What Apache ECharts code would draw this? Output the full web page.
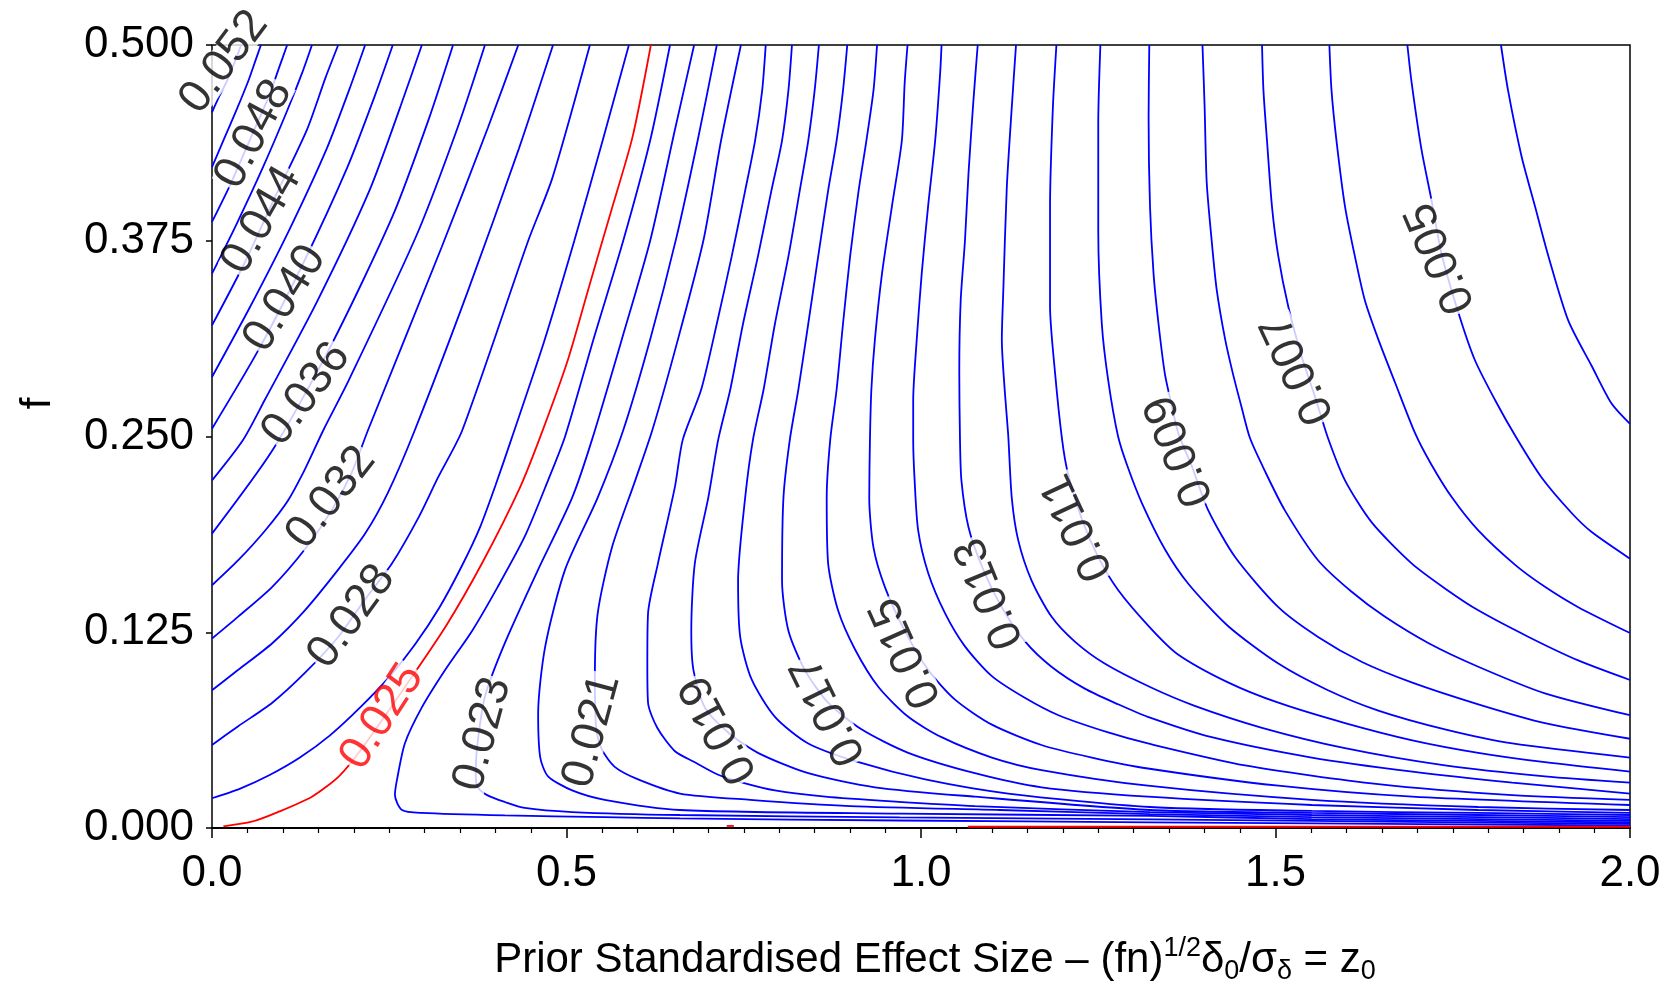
<!DOCTYPE html>
<html>
<head>
<meta charset="utf-8">
<script src="https://cdn.jsdelivr.net/npm/echarts@6/dist/echarts.min.js"></script>
<style>
html,body{margin:0;padding:0;background:#fff;}
#chart{width:1664px;height:984px;}
</style>
</head>
<body>
<div id="chart"></div>
<script>
// tick labels
const xTickLabels = ['0.0','0.5','1.0','1.5','2.0'];
const yTickLabels = ['0.000','0.125','0.250','0.375','0.500'];

// contour lines, [z0, f]
const c052 = [[0,0.457],[0.010,0.467],[0.021,0.477],[0.031,0.488],[0.037,0.495],[0.041,0.5]];
const c050 = [[0,0.422],[0.017,0.440],[0.035,0.459],[0.052,0.478],[0.062,0.491],[0.069,0.5]];
const c048 = [[0,0.387],[0.027,0.412],[0.053,0.439],[0.080,0.467],[0.095,0.486],[0.106,0.5]];
const c046 = [[0,0.354],[0.035,0.386],[0.071,0.421],[0.106,0.458],[0.127,0.482],[0.141,0.5]];
const c044 = [[0,0.321],[0.045,0.360],[0.089,0.403],[0.134,0.446],[0.160,0.479],[0.178,0.5]];
const c042 = [[0,0.288],[0.054,0.333],[0.108,0.381],[0.162,0.434],[0.194,0.472],[0.216,0.5]];
const c040 = [[0,0.255],[0.064,0.304],[0.128,0.360],[0.191,0.422],[0.230,0.468],[0.255,0.5]];
const c038 = [[0,0.222],[0.044,0.248],[0.074,0.273],[0.148,0.336],[0.222,0.407],[0.266,0.461],[0.296,0.5]];
const c036 = [[0,0.188],[0.085,0.241],[0.170,0.310],[0.255,0.391],[0.306,0.453],[0.340,0.5]];
const c034 = [[0,0.155],[0.037,0.171],[0.075,0.190],[0.107,0.209],[0.131,0.229],[0.157,0.254],[0.193,0.286],[0.289,0.379],[0.347,0.448],[0.385,0.5]];
const c032 = [[0,0.121],[0.037,0.135],[0.085,0.154],[0.131,0.178],[0.169,0.203],[0.197,0.227],[0.220,0.254],[0.324,0.371],[0.389,0.447],[0.432,0.5]];
const c030 = [[0,0.088],[0.037,0.101],[0.085,0.118],[0.131,0.139],[0.178,0.165],[0.216,0.188],[0.248,0.214],[0.286,0.254],[0.361,0.343],[0.433,0.434],[0.481,0.5]];
const c028 = [[0,0.053],[0.037,0.065],[0.085,0.080],[0.131,0.099],[0.178,0.122],[0.216,0.146],[0.254,0.169],[0.291,0.198],[0.319,0.224],[0.353,0.254],[0.446,0.375],[0.480,0.415],[0.533,0.5]];
const c026 = [[0,0.019],[0.039,0.025],[0.082,0.034],[0.124,0.045],[0.166,0.059],[0.209,0.077],[0.251,0.097],[0.286,0.117],[0.321,0.141],[0.352,0.167],[0.378,0.192],[0.400,0.219],[0.422,0.248],[0.468,0.310],[0.511,0.375],[0.551,0.439],[0.588,0.5]];
const c025 = [[0.016,0.001],[0.056,0.004],[0.092,0.010],[0.141,0.020],[0.179,0.033],[0.210,0.050],[0.269,0.088],[0.330,0.129],[0.382,0.170],[0.434,0.217],[0.464,0.251],[0.502,0.299],[0.532,0.346],[0.563,0.394],[0.593,0.441],[0.619,0.5]];
const c025bottom = [[1.066,0.0008],[2.0,0.0008]];
const c025dash = [[0.726,0.0013],[0.736,0.0013]];
const c024 = [[0.646,0.5],[0.618,0.439],[0.580,0.375],[0.538,0.312],[0.498,0.250],[0.474,0.222],[0.441,0.186],[0.403,0.154],[0.367,0.126],[0.329,0.101],[0.296,0.077],[0.272,0.054],[0.261,0.031],[0.258,0.021],[0.268,0.0115],[0.296,0.0096],[0.413,0.0080],[0.554,0.0070],[0.660,0.0061],[0.970,0.0048],[1.323,0.0036],[1.551,0.0029],[2.0,0.0016]];
const c023 = [[0.680,0.5],[0.653,0.446],[0.618,0.375],[0.578,0.312],[0.536,0.248],[0.508,0.211],[0.460,0.165],[0.413,0.118],[0.385,0.084],[0.374,0.052],[0.372,0.033],[0.375,0.026],[0.388,0.021],[0.413,0.0166],[0.441,0.0128],[0.508,0.0102],[0.660,0.0083],[0.970,0.0068],[1.323,0.0055],[1.551,0.0045],[2.0,0.0026]];
const c022 = [[0.712,0.5],[0.685,0.439],[0.655,0.377],[0.618,0.312],[0.580,0.254],[0.544,0.211],[0.498,0.165],[0.470,0.116],[0.460,0.073],[0.463,0.045],[0.474,0.033],[0.508,0.024],[0.554,0.018],[0.660,0.0115],[0.970,0.0092],[1.323,0.0077],[1.551,0.0057],[1.786,0.0045],[2.0,0.0035]];
const c021 = [[0.746,0.5],[0.718,0.439],[0.693,0.375],[0.653,0.305],[0.621,0.254],[0.597,0.222],[0.564,0.179],[0.544,0.137],[0.540,0.095],[0.542,0.063],[0.550,0.050],[0.568,0.039],[0.601,0.031],[0.660,0.022],[0.759,0.018],[0.900,0.014],[1.111,0.0115],[1.323,0.0089],[1.551,0.0070],[1.786,0.0057],[2.0,0.0045]];
const c020 = [[0.781,0.5],[0.776,0.471],[0.766,0.439],[0.752,0.407],[0.733,0.365],[0.712,0.322],[0.690,0.280],[0.664,0.248],[0.653,0.218],[0.629,0.169],[0.615,0.137],[0.614,0.105],[0.615,0.080],[0.628,0.064],[0.653,0.049],[0.681,0.042],[0.714,0.034],[0.748,0.029],[0.794,0.024],[0.865,0.020],[0.959,0.017],[1.076,0.014],[1.323,0.0102],[1.551,0.0083],[1.786,0.0070],[2.0,0.0057]];
const c019 = [[0.818,0.5],[0.813,0.471],[0.804,0.439],[0.789,0.407],[0.770,0.365],[0.749,0.322],[0.731,0.280],[0.714,0.248],[0.700,0.211],[0.681,0.169],[0.676,0.126],[0.679,0.101],[0.695,0.077],[0.728,0.061],[0.770,0.048],[0.841,0.035],[0.935,0.026],[1.076,0.020],[1.323,0.0115],[1.551,0.0096],[1.786,0.0083],[2.0,0.0070]];
const c018 = [[0.856,0.5],[0.850,0.471],[0.841,0.439],[0.829,0.407],[0.813,0.365],[0.794,0.322],[0.778,0.280],[0.763,0.248],[0.752,0.211],[0.742,0.158],[0.745,0.122],[0.761,0.095],[0.794,0.071],[0.841,0.054],[0.912,0.042],[1.006,0.031],[1.123,0.022],[1.323,0.0134],[1.551,0.0109],[1.786,0.0096],[2.0,0.0083]];
const c017 = [[0.896,0.5],[0.890,0.471],[0.881,0.439],[0.869,0.407],[0.855,0.365],[0.841,0.322],[0.827,0.280],[0.815,0.248],[0.806,0.211],[0.804,0.158],[0.813,0.126],[0.836,0.101],[0.869,0.080],[0.916,0.063],[0.982,0.048],[1.076,0.035],[1.170,0.026],[1.320,0.020],[1.551,0.0147],[1.786,0.0115],[2.0,0.0096]];
const c016 = [[0.938,0.5],[0.933,0.471],[0.923,0.439],[0.912,0.407],[0.900,0.365],[0.890,0.322],[0.881,0.280],[0.872,0.248],[0.867,0.211],[0.869,0.169],[0.883,0.139],[0.907,0.114],[0.940,0.090],[0.982,0.071],[1.029,0.058],[1.100,0.045],[1.170,0.037],[1.320,0.027],[1.551,0.018],[1.786,0.0134],[2.0,0.0115]];
const c015 = [[0.981,0.5],[0.977,0.476],[0.973,0.439],[0.959,0.397],[0.945,0.354],[0.935,0.312],[0.930,0.280],[0.928,0.248],[0.927,0.211],[0.933,0.179],[0.949,0.154],[0.977,0.126],[1.010,0.101],[1.048,0.082],[1.100,0.066],[1.170,0.053],[1.241,0.045],[1.320,0.038],[1.504,0.027],[1.693,0.020],[2.0,0.0147]];
const c014 = [[1.029,0.5],[1.027,0.482],[1.020,0.439],[1.010,0.397],[1.001,0.354],[0.994,0.312],[0.989,0.273],[0.989,0.248],[0.991,0.222],[0.996,0.190],[1.010,0.163],[1.034,0.137],[1.062,0.116],[1.100,0.097],[1.147,0.083],[1.194,0.072],[1.264,0.061],[1.320,0.054],[1.457,0.040],[1.645,0.028],[1.834,0.021],[2.0,0.018]];
const c013 = [[1.080,0.5],[1.074,0.465],[1.067,0.418],[1.062,0.375],[1.056,0.337],[1.054,0.291],[1.055,0.248],[1.057,0.222],[1.067,0.192],[1.086,0.167],[1.114,0.141],[1.147,0.119],[1.184,0.103],[1.231,0.089],[1.278,0.079],[1.320,0.071],[1.410,0.058],[1.551,0.045],[1.693,0.036],[1.834,0.029],[2.0,0.022]];
const c012 = [[1.134,0.5],[1.128,0.460],[1.121,0.409],[1.116,0.342],[1.114,0.312],[1.118,0.280],[1.123,0.251],[1.128,0.211],[1.137,0.184],[1.156,0.158],[1.184,0.135],[1.217,0.119],[1.259,0.105],[1.323,0.090],[1.386,0.078],[1.481,0.064],[1.598,0.051],[1.739,0.040],[1.880,0.033],[2.0,0.029]];
const c011 = [[1.191,0.5],[1.186,0.460],[1.182,0.397],[1.182,0.333],[1.189,0.291],[1.199,0.248],[1.207,0.227],[1.227,0.197],[1.250,0.173],[1.278,0.152],[1.323,0.128],[1.362,0.111],[1.433,0.093],[1.504,0.080],[1.598,0.067],[1.693,0.056],[1.786,0.048],[1.880,0.042],[2.0,0.036]];
const c010 = [[1.253,0.5],[1.250,0.450],[1.250,0.382],[1.255,0.322],[1.264,0.286],[1.278,0.250],[1.292,0.230],[1.312,0.207],[1.344,0.178],[1.377,0.156],[1.433,0.129],[1.504,0.105],[1.574,0.088],[1.645,0.075],[1.739,0.063],[1.834,0.054],[2.0,0.045]];
const c009 = [[1.322,0.5],[1.321,0.454],[1.323,0.397],[1.328,0.354],[1.335,0.322],[1.344,0.290],[1.354,0.269],[1.363,0.252],[1.382,0.231],[1.405,0.203],[1.443,0.173],[1.504,0.141],[1.560,0.122],[1.622,0.106],[1.692,0.093],[1.786,0.079],[1.880,0.067],[2.0,0.057]];
const c008 = [[1.397,0.5],[1.400,0.461],[1.403,0.412],[1.410,0.375],[1.417,0.344],[1.429,0.312],[1.440,0.290],[1.452,0.269],[1.464,0.249],[1.485,0.228],[1.513,0.203],[1.560,0.171],[1.607,0.151],[1.654,0.135],[1.716,0.118],[1.786,0.103],[1.880,0.086],[2.0,0.072]];
const c007 = [[1.481,0.5],[1.483,0.471],[1.488,0.439],[1.495,0.397],[1.504,0.365],[1.518,0.333],[1.537,0.301],[1.556,0.275],[1.574,0.249],[1.598,0.222],[1.636,0.195],[1.692,0.169],[1.739,0.153],[1.786,0.139],[1.857,0.122],[1.927,0.107],[2.0,0.0945]];
const c006 = [[1.576,0.5],[1.579,0.471],[1.586,0.439],[1.598,0.397],[1.612,0.365],[1.626,0.337],[1.645,0.312],[1.669,0.284],[1.697,0.252],[1.720,0.232],[1.749,0.211],[1.786,0.190],[1.838,0.168],[1.880,0.154],[1.927,0.141],[2.0,0.1245]];
const c005 = [[1.686,0.5],[1.692,0.476],[1.706,0.433],[1.720,0.401],[1.734,0.367],[1.758,0.329],[1.781,0.299],[1.810,0.273],[1.840,0.249],[1.875,0.224],[1.918,0.201],[1.946,0.189],[2.0,0.172]];
const c004 = [[1.818,0.5],[1.828,0.471],[1.847,0.429],[1.866,0.397],[1.885,0.365],[1.913,0.324],[1.946,0.295],[1.974,0.271],[2.0,0.258]];

// contour labels
const labelText = ['0.052','0.048','0.044','0.040','0.036','0.032','0.028','0.025','0.023','0.021','0.019','0.017','0.015','0.013','0.011','0.009','0.007','0.005'];
const labelPos = [[0.017,0.489],[0.059,0.443],[0.070,0.388],[0.103,0.338],[0.133,0.277],[0.168,0.211],[0.197,0.135],[0.240,0.071],[0.382,0.060],[0.536,0.062],[0.715,0.063],[0.870,0.075],[0.979,0.112],[1.097,0.150],[1.221,0.192],[1.365,0.241],[1.532,0.293],[1.733,0.364]];
const labelRot = [53,62,60,58,53,52,54,57,75,75,118,116,114,112,115,112,115,113];

const blueLines = [c052,c050,c048,c046,c044,c042,c040,c038,c036,c034,c032,c030,c028,c026,
  c024,c023,c022,c021,c020,c019,c018,c017,c016,c015,c014,c013,c012,c011,c010,c009,c008,c007,c006,c005,c004];
const redLines = [c025, c025bottom, c025dash];

const FONT = 'Liberation Sans, Arial, Helvetica, sans-serif';
const series = [];
blueLines.forEach(d => series.push({
  type:'line', data:d, showSymbol:false, smooth:0.25, silent:true,
  lineStyle:{color:'#0000ff', width:1.8}, z:2
}));
redLines.forEach(d => series.push({
  type:'line', data:d, showSymbol:false, smooth:0.25, silent:true,
  lineStyle:{color:'#ff0000', width:1.8}, z:3
}));
series.push({
  type:'scatter', symbolSize:0, silent:true, z:10,
  data: labelPos.map((p,i) => ({
    value:p,
    label:{show:true, position:'inside', rotate:labelRot[i], formatter:labelText[i],
      color: labelText[i]==='0.025' ? '#ff0000' : '#000000'}
  })),
  label:{show:true, fontSize:46, fontFamily:FONT, backgroundColor:'#ffffff', lineHeight:33, padding:[0,1]}
});

const chart = echarts.init(document.getElementById('chart'), null, {renderer:'canvas'});
chart.setOption({
  animation:false,
  backgroundColor:'#ffffff',
  grid:{left:212, top:45, right:34, bottom:156, containLabel:false, outerBoundsMode:'none',
    show:true, borderColor:'#000', borderWidth:1.5},
  xAxis:{
    type:'value', min:0, max:2, interval:0.5,
    axisLine:{show:true, lineStyle:{color:'#000', width:2}},
    axisTick:{show:true, length:10, lineStyle:{color:'#000', width:1.5}},
    minorTick:{show:true, splitNumber:10, length:5, lineStyle:{color:'#000', width:1.2}},
    splitLine:{show:false},
    axisLabel:{fontSize:44, fontFamily:FONT, color:'#000', margin:24,
      formatter:v => xTickLabels[Math.round(v/0.5)]},
    name:'Prior Standardised Effect Size – (fn){sup|1/2}δ{sub|0}/σ{sub|δ} = z{sub|0}',
    nameLocation:'middle', nameGap:107,
    nameTextStyle:{fontSize:42, fontFamily:FONT, color:'#000', lineHeight:50, padding:[0,0,0,28],
      rich:{
        sup:{fontSize:27, fontFamily:FONT, color:'#000', lineHeight:27, verticalAlign:'top'},
        sub:{fontSize:27, fontFamily:FONT, color:'#000', lineHeight:27, verticalAlign:'bottom'}
      }}
  },
  yAxis:{
    type:'value', min:0, max:0.5, interval:0.125, offset:3,
    axisLine:{show:false},
    axisTick:{show:true, length:6, lineStyle:{color:'#000', width:1.5}},
    splitLine:{show:false},
    axisLabel:{fontSize:44, fontFamily:FONT, color:'#000', margin:15,
      formatter:v => yTickLabels[Math.round(v/0.125)]},
    name:'f', nameLocation:'middle', nameRotate:90, nameGap:150,
    nameTextStyle:{fontSize:42, fontFamily:FONT, color:'#000', padding:[0,0,0,66]}
  },
  series:series
});
</script>
</body>
</html>
